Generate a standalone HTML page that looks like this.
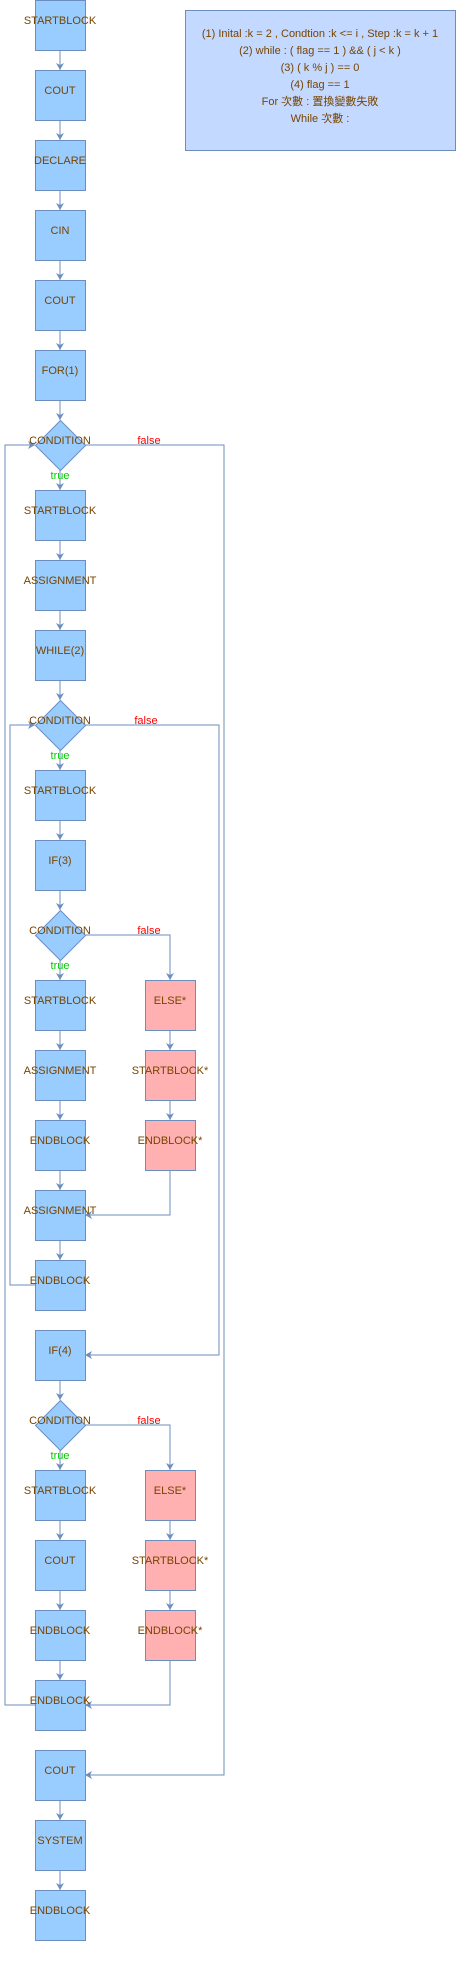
<!DOCTYPE html>
<html><head><meta charset="utf-8"><style>
html,body{margin:0;padding:0;background:#fff;}
svg{display:block;}
text{font-family:"Liberation Sans","Noto Sans CJK TC",sans-serif;font-size:11px;}
</style></head><body>
<svg width="456" height="1962" xmlns="http://www.w3.org/2000/svg">
<defs>
<marker id="a" markerWidth="8" markerHeight="8" refX="7" refY="4" orient="auto" markerUnits="userSpaceOnUse">
<path d="M0,0 L7,4 L0,8 L2,4 Z" fill="#6c8ebf"/>
</marker>
</defs>
<g fill="none" stroke="#6c8ebf" stroke-width="1" marker-end="url(#a)">
<path d="M60,50V70"/><path d="M60,120V140"/><path d="M60,190V210"/><path d="M60,260V280"/>
<path d="M60,330V350"/><path d="M60,400V420"/><path d="M60,470V490"/><path d="M60,540V560"/>
<path d="M60,610V630"/><path d="M60,680V700"/><path d="M60,750V770"/><path d="M60,820V840"/>
<path d="M60,890V910"/><path d="M60,960V980"/><path d="M60,1030V1050"/><path d="M60,1100V1120"/>
<path d="M60,1170V1190"/><path d="M60,1240V1260"/><path d="M60,1380V1400"/><path d="M60,1450V1470"/>
<path d="M60,1520V1540"/><path d="M60,1590V1610"/><path d="M60,1660V1680"/><path d="M60,1800V1820"/>
<path d="M60,1870V1890"/>
<path d="M85,935H170V980"/>
<path d="M170,1030V1050"/><path d="M170,1100V1120"/>
<path d="M170,1170V1215H85"/>
<path d="M85,1425H170V1470"/>
<path d="M170,1520V1540"/><path d="M170,1590V1610"/>
<path d="M170,1660V1705H85"/>
<path d="M85,445H224V1775H85"/>
<path d="M35,1705H5V445H35"/>
<path d="M85,725H219V1355H85"/>
<path d="M35,1285H10V725H35"/>
</g>
<g fill="#99ccff" stroke="#6c8ebf" stroke-width="1">
<rect x="35.5" y="0.5" width="50" height="50"/>
<rect x="35.5" y="70.5" width="50" height="50"/>
<rect x="35.5" y="140.5" width="50" height="50"/>
<rect x="35.5" y="210.5" width="50" height="50"/>
<rect x="35.5" y="280.5" width="50" height="50"/>
<rect x="35.5" y="350.5" width="50" height="50"/>
<path d="M60.5,420.5L85.5,445.5L60.5,470.5L35.5,445.5Z"/>
<rect x="35.5" y="490.5" width="50" height="50"/>
<rect x="35.5" y="560.5" width="50" height="50"/>
<rect x="35.5" y="630.5" width="50" height="50"/>
<path d="M60.5,700.5L85.5,725.5L60.5,750.5L35.5,725.5Z"/>
<rect x="35.5" y="770.5" width="50" height="50"/>
<rect x="35.5" y="840.5" width="50" height="50"/>
<path d="M60.5,910.5L85.5,935.5L60.5,960.5L35.5,935.5Z"/>
<rect x="35.5" y="980.5" width="50" height="50"/>
<rect x="35.5" y="1050.5" width="50" height="50"/>
<rect x="35.5" y="1120.5" width="50" height="50"/>
<rect x="35.5" y="1190.5" width="50" height="50"/>
<rect x="35.5" y="1260.5" width="50" height="50"/>
<rect x="35.5" y="1330.5" width="50" height="50"/>
<path d="M60.5,1400.5L85.5,1425.5L60.5,1450.5L35.5,1425.5Z"/>
<rect x="35.5" y="1470.5" width="50" height="50"/>
<rect x="35.5" y="1540.5" width="50" height="50"/>
<rect x="35.5" y="1610.5" width="50" height="50"/>
<rect x="35.5" y="1680.5" width="50" height="50"/>
<rect x="35.5" y="1750.5" width="50" height="50"/>
<rect x="35.5" y="1820.5" width="50" height="50"/>
<rect x="35.5" y="1890.5" width="50" height="50"/>
</g>
<g fill="#ffb0b0" stroke="#6c8ebf">
<rect x="145.5" y="980.5" width="50" height="50"/>
<rect x="145.5" y="1050.5" width="50" height="50"/>
<rect x="145.5" y="1120.5" width="50" height="50"/>
<rect x="145.5" y="1470.5" width="50" height="50"/>
<rect x="145.5" y="1540.5" width="50" height="50"/>
<rect x="145.5" y="1610.5" width="50" height="50"/>
</g>
<rect x="185.5" y="10.5" width="270" height="140" fill="#c4d9ff" stroke="#6c8ebf"/>
<g fill="#774400" text-anchor="middle">
<text x="60" y="24">STARTBLOCK</text>
<text x="60" y="94">COUT</text>
<text x="60" y="164">DECLARE</text>
<text x="60" y="234">CIN</text>
<text x="60" y="304">COUT</text>
<text x="60" y="374">FOR(1)</text>
<text x="60" y="444">CONDITION</text>
<text x="60" y="514">STARTBLOCK</text>
<text x="60" y="584">ASSIGNMENT</text>
<text x="60" y="654">WHILE(2)</text>
<text x="60" y="724">CONDITION</text>
<text x="60" y="794">STARTBLOCK</text>
<text x="60" y="864">IF(3)</text>
<text x="60" y="934">CONDITION</text>
<text x="60" y="1004">STARTBLOCK</text>
<text x="60" y="1074">ASSIGNMENT</text>
<text x="60" y="1144">ENDBLOCK</text>
<text x="60" y="1214">ASSIGNMENT</text>
<text x="60" y="1284">ENDBLOCK</text>
<text x="60" y="1354">IF(4)</text>
<text x="60" y="1424">CONDITION</text>
<text x="60" y="1494">STARTBLOCK</text>
<text x="60" y="1564">COUT</text>
<text x="60" y="1634">ENDBLOCK</text>
<text x="60" y="1704">ENDBLOCK</text>
<text x="60" y="1774">COUT</text>
<text x="60" y="1844">SYSTEM</text>
<text x="60" y="1914">ENDBLOCK</text>
<text x="170" y="1004">ELSE*</text>
<text x="170" y="1074">STARTBLOCK*</text>
<text x="170" y="1144">ENDBLOCK*</text>
<text x="170" y="1494">ELSE*</text>
<text x="170" y="1564">STARTBLOCK*</text>
<text x="170" y="1634">ENDBLOCK*</text>
<text x="320" y="37">(1)  Inital :k = 2  , Condtion :k &lt;= i , Step :k = k + 1</text>
<text x="320" y="54">(2) while : ( flag == 1 ) &amp;&amp; ( j &lt; k )</text>
<text x="320" y="71">(3) ( k % j ) == 0</text>
<text x="320" y="88">(4) flag == 1</text>
<text x="320" y="105">For 次數 : 置換變數失敗</text>
<text x="320" y="122">While 次數 :</text>
</g>
<g fill="#00cc00" text-anchor="middle">
<text x="60" y="479">true</text>
<text x="60" y="759">true</text>
<text x="60" y="969">true</text>
<text x="60" y="1459">true</text>
</g>
<g fill="#ff0000" text-anchor="middle">
<text x="149" y="444">false</text>
<text x="146" y="724">false</text>
<text x="149" y="934">false</text>
<text x="149" y="1424">false</text>
</g>
</svg>
</body></html>
